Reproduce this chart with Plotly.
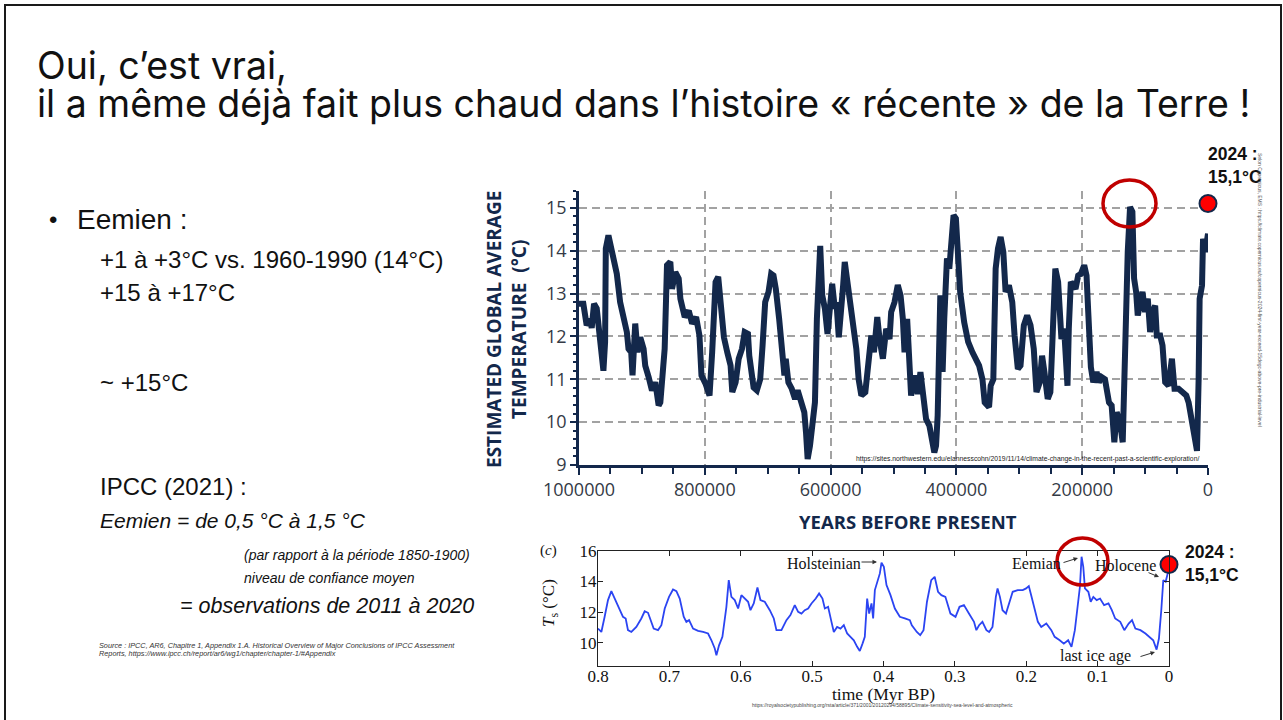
import plotly.graph_objects as go

W, H = 1283, 720


def px(x):
    return x / W


def py(y):
    return 1 - y / H


NAVY = "#13284b"
RED = "#c00000"

main_years_k = [
    1000, 993.1, 987.8, 982.4, 979.8, 976.1, 971.8, 968.1, 963.8, 961.2, 958.5, 957.4, 953.2,
    947.9, 939.9, 934.6, 929.2, 923.9, 921.3, 917.0, 914.9, 910.6, 906.9, 902.6, 897.3, 894.7,
    889.3, 884.0, 878.7, 873.4, 870.7, 867.0, 863.8, 860.1, 854.8, 852.1, 846.8, 841.5, 838.8,
    831.9, 825.5, 820.2, 813.8, 808.5, 805.3, 798.9, 792.5, 788.3, 785.6, 782.9, 778.7, 775.0,
    772.3, 769.6, 764.3, 759.0, 756.3, 751.0,
    746.1, 740.9, 736.6, 731.4, 729.3, 725.1, 722.4, 717.2, 711.9, 708.2, 704.0, 698.7, 694.5,
    690.8, 687.1, 681.8, 677.6, 673.4, 671.3, 667.1, 661.8, 656.5, 652.3, 647.1, 641.8, 639.1,
    636.5, 632.8, 629.1, 624.9, 621.8, 619.6, 616.5, 613.3, 609.1, 604.9, 601.2, 597.5, 593.3,
    590.7, 587.0, 582.8, 580.1, 577.5, 573.3, 569.6, 564.3, 559.1, 555.4, 551.1, 544.8, 540.6,
    535.3, 531.1, 525.8, 522.2, 516.9, 511.6, 506.3, 503.7, 498.4, 493.2,
    488.8, 485.1, 482.5, 478.3, 474.6, 472.0, 466.7, 461.4, 457.2, 451.9, 448.2, 443.0, 439.3,
    435.1, 432.4, 429.8, 425.6, 421.9, 419.3, 415.0, 411.3, 408.7, 404.5, 400.8, 398.2, 394.0,
    387.6, 381.3, 374.5, 369.2, 363.9, 358.6, 355.0, 348.1, 345.5, 341.3, 337.6, 333.9, 329.7,
    325.4, 321.8, 316.5, 311.2, 307.5, 302.3, 298.1, 292.8, 287.5, 282.2, 277.0, 272.7, 267.5,
    263.8, 260.1, 254.8, 250.6, 246.4, 242.7,
    238.3, 235.6, 233.0, 228.7, 225.0, 223.4, 221.3, 218.1, 214.4, 210.6, 206.4, 202.1, 196.8,
    193.1, 190.4, 186.2, 182.4, 177.1, 173.4, 169.1, 163.8, 161.2, 157.4, 153.2, 148.9, 145.2,
    139.9, 135.6, 131.9, 127.6, 123.9, 120.2, 117.5, 114.3, 111.7, 108.0, 104.2, 100.0, 95.7,
    92.0, 88.3, 84.0, 81.4, 76.0, 72.3, 68.1, 62.7, 57.4, 53.2, 46.8, 41.5, 34.5, 30.8, 25.5,
    21.3, 17.5, 14.9, 13.3, 9.5, 7.9, 4.2, 1.6, 0.0,
]
main_temp = [
    12.76, 12.76, 12.26, 12.4, 12.2, 12.76, 12.65, 12.0, 11.4, 11.2, 11.87, 14.05, 14.36,
    13.97, 13.46, 12.8, 12.41, 12.1, 11.71, 11.63, 11.09, 12.3, 11.63, 11.98, 11.71, 11.32,
    11.05, 10.74, 10.93, 10.39, 10.46, 11.17, 11.71, 13.66, 13.74, 13.11, 13.5, 13.35, 12.88,
    12.45, 12.6, 12.3, 12.45, 12.02, 11.09, 10.9, 10.62, 11.63, 12.41, 13.27, 13.39, 12.72,
    12.33, 11.98, 11.63, 11.32, 10.7, 10.93,
    11.48, 11.71, 12.1, 12.06, 11.55, 11.17, 10.81, 10.74, 11.0, 11.78, 12.8, 13.04, 13.46,
    13.42, 13.11, 12.41, 11.63, 11.09, 11.48, 10.93, 10.78, 10.54, 10.74, 10.5, 10.23, 9.76,
    9.14, 9.45, 9.92, 10.46, 12.41, 13.58, 14.11, 12.96, 12.65, 12.06, 12.57, 13.23, 12.65,
    12.8, 11.98, 12.57, 13.19, 13.74, 13.27, 12.69, 12.33, 11.71, 11.0, 10.62, 10.7, 11.4,
    12.02, 11.63, 12.45, 11.94, 11.48, 12.18, 11.94, 12.57, 12.8, 13.2,
    12.96, 12.41, 11.63, 12.41, 11.24, 10.62, 11.09, 10.66, 11.17, 10.46, 10.07, 9.92, 9.61,
    9.29, 9.45, 10.15, 12.96, 11.17, 12.41, 13.82, 13.58, 14.2, 14.83, 14.75, 13.97, 13.04,
    12.33, 11.87, 11.63, 11.48, 11.32, 11.0, 10.46, 10.35, 10.85, 11.0, 13.58, 14.05, 14.32,
    13.97, 13.04, 13.19, 12.8, 12.02, 11.24, 11.32, 12.26, 12.49, 12.26, 11.71, 10.7, 10.93,
    11.55, 11.17, 10.54, 10.7, 12.57, 13.58,
    13.27, 12.26, 11.94, 12.18, 11.24, 10.85, 12.18, 13.27, 13.19, 13.11, 13.42, 13.46, 13.66,
    13.42, 12.57, 11.28, 10.93, 11.17, 10.93, 11.05, 11.0, 10.7, 10.46, 10.39, 9.53, 10.23,
    10.0, 9.53, 11.79, 13.97, 15.02, 14.91, 13.35, 13.04, 12.49, 12.88, 13.04, 12.57, 12.88,
    12.1, 12.57, 12.72, 12.02, 12.02, 11.79, 10.93, 10.85, 11.48, 10.78, 10.78, 10.7, 10.62, 10.46,
    10.07, 9.76, 9.33, 11.0, 12.88, 13.19, 14.28, 13.97, 14.36, 14.4,
]
main_years = [k * 1000 for k in main_years_k]

paleo_myr = [
    0.8, 0.7953, 0.7907, 0.786, 0.7813, 0.7766, 0.772, 0.765, 0.7612, 0.758, 0.7533, 0.7463,
    0.7393, 0.7346, 0.7299, 0.7266, 0.722, 0.7159, 0.7112, 0.7065, 0.7005, 0.6949, 0.6902,
    0.6855, 0.6799, 0.6762, 0.6724, 0.6668, 0.6598, 0.6528, 0.6458, 0.6411, 0.6364, 0.6341,
    0.6304, 0.6257, 0.6201, 0.6168, 0.6131, 0.6084, 0.6037, 0.5991, 0.5944, 0.5897, 0.5864,
    0.5818, 0.5766, 0.5724, 0.5664, 0.5593, 0.5537, 0.55, 0.543, 0.536, 0.5304, 0.5243, 0.5196,
    0.515, 0.5103, 0.5056, 0.5009, 0.4949, 0.4902, 0.4855, 0.4822, 0.4776, 0.4729, 0.4696,
    0.465, 0.4603, 0.4556, 0.4509, 0.4463, 0.4416, 0.4369, 0.4332, 0.4294, 0.4262, 0.4229,
    0.4201, 0.4168, 0.4145, 0.4121, 0.4089, 0.4051, 0.4028, 0.3995, 0.3958, 0.3902, 0.3841,
    0.3771, 0.3701, 0.3631,
    0.3603, 0.3533, 0.3486, 0.3439, 0.3391, 0.3331, 0.3283, 0.3236, 0.3189, 0.3133, 0.3062,
    0.2991, 0.2935, 0.2873, 0.2803, 0.2732, 0.2699, 0.2661, 0.2614, 0.2558, 0.252, 0.2473,
    0.2426, 0.2402, 0.2369, 0.2332, 0.2284, 0.2237, 0.219, 0.212, 0.2049, 0.2002, 0.1964,
    0.1931, 0.1884, 0.1837, 0.179, 0.1719, 0.1649, 0.1602, 0.1531, 0.1474, 0.1413, 0.1366,
    0.1319, 0.1286, 0.1248, 0.1225, 0.1201, 0.1178, 0.113, 0.1097, 0.106, 0.1013, 0.0966,
    0.0909, 0.0848, 0.0801, 0.0754, 0.0683, 0.0626, 0.0565, 0.0518, 0.0471, 0.04, 0.033,
    0.0268, 0.0221, 0.0174, 0.0141, 0.0108, 0.008, 0.0047, 0.0024, 0.0,
]
paleo_temp = [
    10.92, 10.7, 11.69, 12.78, 13.36, 12.88, 12.34, 11.69, 11.58, 10.82, 10.7, 11.03,
    11.58, 12.05, 11.95, 11.47, 10.92, 10.82, 11.14, 12.23, 12.99, 13.47, 13.36,
    12.88, 11.69, 11.36, 11.47, 10.92, 10.77, 10.7, 10.6, 10.16, 9.62, 9.18,
    9.83, 10.38, 12.34, 14.08, 12.99, 12.78, 12.23, 13.1, 12.88, 12.67, 12.12,
    12.56, 13.6, 12.78, 12.67, 12.12, 11.58, 10.82, 10.82, 11.47, 11.8, 12.45, 12.01,
    11.9, 12.12, 12.23, 12.56, 12.88, 13.21, 12.88, 12.23, 12.34, 11.36, 10.7,
    11.03, 10.92, 11.14, 10.6, 10.38, 10.16, 9.73, 9.46, 9.94, 10.38, 12.88,
    11.9, 12.56, 11.58, 13.43, 13.87, 14.52, 15.22, 14.95, 13.76, 13.1, 12.23,
    11.69, 11.58, 11.47,
    11.14, 10.7, 10.49, 10.82, 12.67, 14.08, 14.3, 13.32, 13.1, 12.99, 11.9,
    11.69, 12.34, 12.45, 11.9, 11.36, 10.82, 11.14, 11.36, 10.82, 10.7, 11.03,
    12.99, 13.54, 12.99, 12.12, 11.9, 12.56, 13.32, 13.43, 13.43, 13.54, 13.69,
    13.1, 12.12, 11.36, 11.03, 11.25, 10.82, 10.38, 10.16, 9.94, 10.16, 9.73,
    10.82, 12.34, 13.65, 15.61, 14.95, 13.54, 13.32, 12.67, 12.99, 12.78, 12.88,
    12.45, 12.56, 12.12, 11.58, 11.36, 10.82, 11.25, 11.47, 10.92, 10.82, 10.6,
    10.38, 10.16, 9.55, 10.27, 12.12, 14.08, 13.97, 14.41, 14.85,
]

temp_2024 = 15.1

main_xticks = [1000000, 800000, 600000, 400000, 200000, 0]
main_xticklabels = ["1000000", "800000", "600000", "400000", "200000", "0"]
main_yticks = [9, 10, 11, 12, 13, 14, 15]
paleo_xticks = [0.8, 0.7, 0.6, 0.5, 0.4, 0.3, 0.2, 0.1, 0.0]
paleo_xticklabels = ["0.8", "0.7", "0.6", "0.5", "0.4", "0.3", "0.2", "0.1", "0"]
paleo_yticks = [10, 12, 14, 16]

fig = go.Figure()
fig.add_trace(go.Scatter(
    x=main_years, y=main_temp, mode="lines", xaxis="x", yaxis="y",
    line=dict(color=NAVY, width=6), hoverinfo="skip", showlegend=False))
fig.add_trace(go.Scatter(
    x=[0], y=[temp_2024], mode="markers", xaxis="x", yaxis="y", cliponaxis=False,
    marker=dict(size=17, color="#ff0000", line=dict(color=NAVY, width=2)),
    showlegend=False))
fig.add_trace(go.Scatter(
    x=paleo_myr, y=paleo_temp, mode="lines", xaxis="x2", yaxis="y2",
    line=dict(color="#2b44f2", width=1.8), hoverinfo="skip", showlegend=False))
fig.add_trace(go.Scatter(
    x=[0], y=[temp_2024], mode="markers", xaxis="x2", yaxis="y2", cliponaxis=False,
    marker=dict(size=17, color="#ff0000", line=dict(color=NAVY, width=2)),
    showlegend=False))

SANS = "Liberation Sans, Arial, sans-serif"
SERIF = "Liberation Serif, Times New Roman, serif"
TICKF = "Open Sans, sans-serif"

ann = []


def text(x, y, t, size, color="#111111", family=SANS, xanchor="left", yanchor="middle",
         angle=0):
    ann.append(dict(x=px(x), y=py(y), xref="paper", yref="paper", text=t, showarrow=False,
                    xanchor=xanchor, yanchor=yanchor, textangle=angle,
                    font=dict(size=size, color=color, family=family)))


def arrow(x0, y0, x1, y1):
    ann.append(dict(x=px(x1), y=py(y1), xref="paper", yref="paper", text="",
                    showarrow=True, ax=x0 - x1, ay=y0 - y1, axref="pixel", ayref="pixel",
                    arrowhead=2, arrowsize=0.9, arrowwidth=1, arrowcolor="#333333"))


text(35, 65, "Oui, c’est vrai,", 37.5, "#111111", "Inter, Noto Sans, sans-serif")
text(35, 104, "il a même déjà fait plus chaud dans l’histoire « récente » de la Terre !", 37.5,
     "#111111", "Inter, Noto Sans, sans-serif")

text(47, 219, "•", 24)
text(75, 219, "Eemien :", 28)
text(98, 259, "+1 à +3°C vs. 1960-1990 (14°C)", 24)
text(98, 292, "+15 à +17°C", 24)
text(98, 382, "~ +15°C", 24)
text(98, 486, "IPCC (2021) :", 24)
text(98, 520, "<i>Eemien = de 0,5 °C à 1,5 °C</i>", 21)
text(242, 555, "<i>(par rapport à la période 1850-1900)</i>", 14)
text(242, 578, "<i>niveau de confiance moyen</i>", 14)
text(178, 606, "<i>= observations de 2011 à 2020</i>", 21.5)
text(97, 645, "<i>Source : IPCC, AR6, Chapitre 1, Appendix 1.A. Historical Overview of Major "
     "Conclusions of IPCC Assessment</i>", 7.3, "#333333")
text(97, 653, "<i>Reports, https://www.ipcc.ch/report/ar6/wg1/chapter/chapter-1/#Appendix</i>",
     7.3, "#333333")

text(507, 330, "<b>ESTIMATED GLOBAL AVERAGE<br>TEMPERATURE  (°C)</b>", 19, NAVY, TICKF,
     xanchor="center", angle=-90)
text(908, 521, "<b>YEARS BEFORE PRESENT</b>", 18.5, NAVY, TICKF, xanchor="center")
text(1027, 459, "https://sites.northwestern.edu/elannesscohn/2019/11/14/"
     "climate-change-in-the-recent-past-a-scientific-exploration/", 6.8, "#222222",
     xanchor="center")
text(1206, 154, "<b>2024 :</b>", 17.5, "#111111")
text(1206, 177, "<b>15,1°C</b>", 17.5, "#111111")
text(1260, 290, "Selon Copernicus, EMS : https://climate.copernicus.eu/"
     "copernicus-2024-first-year-exceed-15degc-above-pre-industrial-level", 5, "#555555",
     xanchor="center", angle=90)

text(548, 550, "(<i>c</i>)", 15, "#111111", SERIF, xanchor="center")
text(550, 603, "<i>T</i><sub>s</sub> (°C)", 17, "#111111", SERIF, xanchor="center", angle=-90)
text(883, 694, "time (Myr BP)", 17.5, "#111111", SERIF, xanchor="center")
text(785, 563, "Holsteinian", 16, "#111111", SERIF)
arrow(860, 562, 877, 562)
text(1010, 563, "Eemian", 16, "#111111", SERIF)
arrow(1062, 563, 1078, 558)
text(1093, 565, "Holocene", 16, "#111111", SERIF)
arrow(1147, 572, 1159, 577)
text(1058, 656, "last ice age", 16, "#111111", SERIF)
arrow(1139, 657, 1155, 652)
text(1183, 552, "<b>2024 :</b>", 17.5, "#111111")
text(1183, 575, "<b>15,1°C</b>", 17.5, "#111111")
text(882, 705, "https://royalsocietypublishing.org/rsta/article/371/2001/20120294/58895/"
     "Climate-sensitivity-sea-level-and-atmospheric", 5, "#444444", xanchor="center")

shapes = [
    dict(type="rect", xref="paper", yref="paper", x0=px(5), x1=px(1281), y0=py(730),
         y1=py(5), line=dict(color="#1a1a1a", width=2)),
    dict(type="circle", xref="paper", yref="paper", x0=px(1103), x1=px(1156), y0=py(227),
         y1=py(180), line=dict(color=RED, width=3.5)),
    dict(type="circle", xref="paper", yref="paper", x0=px(1057), x1=px(1108), y0=py(585),
         y1=py(538), line=dict(color=RED, width=3.5)),
]

GRID_DASH = "8px,5px"

fig.update_layout(
    width=W, height=H, autosize=False,
    margin=dict(l=0, r=0, t=0, b=0, pad=0, autoexpand=False),
    paper_bgcolor="white", plot_bgcolor="white",
    showlegend=False,
    annotations=ann, shapes=shapes,
    xaxis=dict(
        domain=[px(579), px(1208)], range=[1000000, 0], anchor="y",
        tickmode="array", tickvals=main_xticks, ticktext=main_xticklabels,
        ticks="outside", ticklen=7, tickwidth=2, tickcolor=NAVY,
        showline=True, linecolor=NAVY, linewidth=2.5, zeroline=False,
        showgrid=True, gridcolor="#a2a2a2", griddash=GRID_DASH, gridwidth=1.5,
        tickfont=dict(size=18, color="#343a46", family=TICKF),
        minor=dict(tickmode="linear", tick0=0, dtick=50000, ticks="outside", ticklen=6,
                   tickwidth=2, tickcolor=NAVY, showgrid=False),
    ),
    yaxis=dict(
        domain=[py(465), py(190.7)], range=[9, 15.4], anchor="x",
        tickmode="array", tickvals=main_yticks,
        ticks="outside", ticklen=6, tickwidth=2, tickcolor=NAVY,
        showline=True, linecolor=NAVY, linewidth=2.5, zeroline=False,
        showgrid=True, gridcolor="#a2a2a2", griddash=GRID_DASH, gridwidth=1.5,
        tickfont=dict(size=18, color="#343a46", family=TICKF),
        minor=dict(tickmode="linear", tick0=9, dtick=0.2, ticks="outside", ticklen=3,
                   tickwidth=1.5, tickcolor=NAVY, showgrid=False),
    ),
    xaxis2=dict(
        domain=[px(598), px(1169)], range=[0.8, 0], anchor="y2",
        tickmode="array", tickvals=paleo_xticks, ticktext=paleo_xticklabels,
        ticks="inside", ticklen=5, tickwidth=1, tickcolor="#222222",
        showline=True, mirror="ticks", linecolor="#222222", linewidth=1, zeroline=False,
        showgrid=False, tickfont=dict(size=17, color="#111111", family=SERIF),
        ticklabelstandoff=-5,
    ),
    yaxis2=dict(
        domain=[py(665.7), py(550.7)], range=[8.5, 16], anchor="x2",
        tickmode="array", tickvals=paleo_yticks,
        ticks="inside", ticklen=5, tickwidth=1, tickcolor="#222222",
        showline=True, mirror="ticks", linecolor="#222222", linewidth=1, zeroline=False,
        showgrid=False, tickfont=dict(size=17, color="#111111", family=SERIF),
        ticklabelstandoff=-3,
    ),
)

post = (
    "document.documentElement.style.margin='0';"
    "document.body.style.margin='0';"
    "document.body.style.overflow='hidden';"
)
fig.write_html("out.html", post_script=post, config={"displayModeBar": False})
